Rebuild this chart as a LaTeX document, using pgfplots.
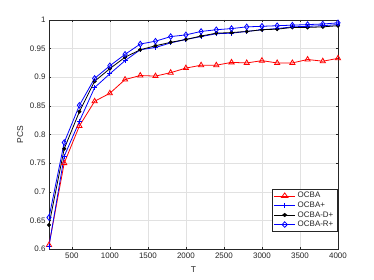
\documentclass[border=0pt]{standalone}
\usepackage{pgfplots}
\pgfplotsset{compat=1.18}
\usepackage{fontspec}
\setmainfont{Liberation Sans}
\definecolor{axgray}{RGB}{38,38,38}
\definecolor{gridgray}{RGB}{225,225,225}
\definecolor{mblue}{RGB}{0,0,255}
\definecolor{mred}{RGB}{255,0,0}
\begin{document}
\begin{tikzpicture}
\begin{axis}[
  scale only axis,
  width=289bp, height=229bp,
  xmin=200, xmax=4000, ymin=0.6, ymax=1,
  xtick={500,1000,...,4000},
  ytick={0.6,0.65,...,1.001},
  /pgf/number format/assume math mode=true,
  yticklabel style={/pgf/number format/fixed,/pgf/number format/precision=2},
  xticklabel style={/pgf/number format/fixed,/pgf/number format/1000 sep={}},
  scaled ticks=false,
  tick label style={font=\fontsize{8}{9}\selectfont, text=axgray},
  label style={font=\fontsize{8.5}{10}\selectfont, text=axgray},
  xlabel={T}, ylabel={PCS},
  xlabel style={yshift=-2pt},
  ylabel style={yshift=0pt},
  grid=major,
  major grid style={gridgray, line width=0.5pt},
  axis line style={axgray, line width=0.5pt},
  tick style={axgray, line width=0.5pt},
  tick align=inside,
  major tick length=2.5pt,
  legend style={at={(0.997,0.075)}, anchor=south east, font=\fontsize{8}{9}\selectfont,
    draw=axgray, line width=0.5pt, inner sep=1.5pt, row sep=-1.5pt, text=axgray},
  legend cell align=left,
  legend image post style={xscale=1.25},
]
\addplot[mred, line width=0.8pt, mark=triangle, mark size=3pt, mark options={solid, line width=0.8pt}] coordinates {
(200,0.607)(400,0.750)(600,0.815)(800,0.858)(1000,0.872)(1200,0.896)(1400,0.903)(1600,0.902)(1800,0.908)(2000,0.916)
(2200,0.921)(2400,0.921)(2600,0.926)(2800,0.925)(3000,0.929)(3200,0.925)(3400,0.925)(3600,0.931)(3800,0.928)(4000,0.933)};
\addlegendentry{OCBA}
\addplot[mblue, line width=0.8pt, mark=+, mark size=2.5pt, mark options={solid, line width=0.8pt}] coordinates {
(200,0.605)(400,0.762)(600,0.823)(800,0.882)(1000,0.906)(1200,0.929)(1400,0.948)(1600,0.952)(1800,0.960)(2000,0.966)
(2200,0.971)(2400,0.976)(2600,0.977)(2800,0.980)(3000,0.983)(3200,0.985)(3400,0.988)(3600,0.989)(3800,0.990)(4000,0.992)};
\addlegendentry{OCBA+}
\addplot[black, line width=0.8pt, mark=*, mark size=1.6pt, mark options={solid}] coordinates {
(200,0.642)(400,0.775)(600,0.840)(800,0.893)(1000,0.915)(1200,0.935)(1400,0.948)(1600,0.955)(1800,0.961)(2000,0.966)
(2200,0.972)(2400,0.977)(2600,0.978)(2800,0.980)(3000,0.983)(3200,0.984)(3400,0.987)(3600,0.987)(3800,0.988)(4000,0.990)};
\addlegendentry{OCBA-D+}
\addplot[mblue, line width=0.8pt, mark=diamond, mark size=2.8pt, mark options={solid, line width=0.8pt}] coordinates {
(200,0.655)(400,0.786)(600,0.851)(800,0.898)(1000,0.920)(1200,0.940)(1400,0.958)(1600,0.963)(1800,0.971)(2000,0.974)
(2200,0.980)(2400,0.983)(2600,0.985)(2800,0.988)(3000,0.989)(3200,0.990)(3400,0.991)(3600,0.992)(3800,0.993)(4000,0.995)};
\addlegendentry{OCBA-R+}
\end{axis}
\path (current axis.south west)+(-49bp,-31bp) coordinate (bbA);
\path (current axis.north east)+(36bp,20bp) coordinate (bbB);
\path (bbA) rectangle (bbB);
\end{tikzpicture}
\end{document}
